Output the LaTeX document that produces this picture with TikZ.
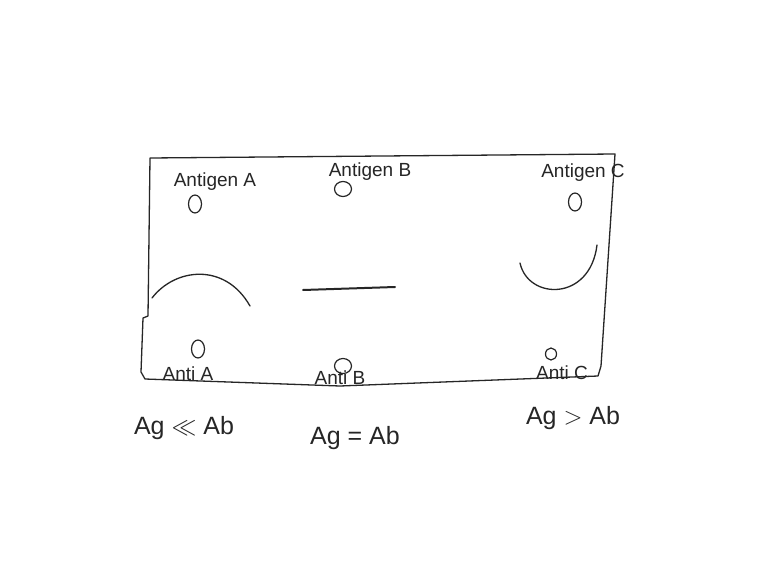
\documentclass[tikz,border=0pt]{standalone}
\usepackage{fontspec}
\setmainfont{Liberation Sans}
\usetikzlibrary{shapes.geometric}
\begin{document}
\begin{tikzpicture}[x=1pt,y=-1pt,
  pen/.style={line width=1.3pt,draw=black!85,line cap=round,line join=round},
  lbl/.style={font=\fontsize{19}{21}\selectfont,text=black!85,inner sep=1pt},
  albl/.style={font=\fontsize{19}{21}\selectfont,text=black!85,inner sep=1pt},
  well/.style={ellipse,draw=black!85,line width=1.2pt,minimum width=13pt,minimum height=18pt,inner sep=0pt},
  wellb/.style={ellipse,draw=black!85,line width=1.2pt,minimum width=17pt,minimum height=15pt,inner sep=0pt},
  rel/.style={font=\fontsize{25}{27}\selectfont,text=black!85}]
\useasboundingbox (0,0) rectangle (767,583);
\fill[white] (0,0) rectangle (767,583);
% frame
\draw[pen] (150,158) -- (615,154) -- (601,366) -- (598,376) -- (340,386) -- (145,379) -- (141,372) -- (143,318) -- (148,316) -- cycle;
% labels
\node[lbl] (agA) at (215,182) {Antigen A};
\node[lbl] (agB) at (370,172) {Antigen B};
\node[lbl] (agC) at (583,173) {Antigen C};
\node[well] (wA) at (195,204) {};
\node[wellb] (wB) at (343,189) {};
\node[well] (wC) at (575,202) {};
\node[well] (aA) at (198,349) {};
\node[wellb] (aB) at (343,366) {};
\node[well,minimum width=11pt,minimum height=12pt] (aC) at (551,354) {};
\node[albl] (antiA) at (188,374) {Anti A};
\node[albl] (antiB) at (340,378) {Anti B};
\node[albl] (antiC) at (562,373) {Anti C};
% precipitin lines
\coordinate (pa1) at (152,298);
\coordinate (pa2) at (250,306);
\draw[pen] (pa1) .. controls (175,268) and (225,262) .. (pa2);
\coordinate (pb1) at (303,290);
\coordinate (pb2) at (395,287);
\draw[pen,line width=2pt] (pb1) -- (pb2);
\coordinate (pc1) at (520,263);
\coordinate (pc2) at (597,245);
\draw[pen] (pc1) .. controls (528,300) and (590,302) .. (pc2);
% relations
\node[rel] (r1) at (184,428) {Ag $\ll$ Ab};
\node[rel] (r2) at (355,438) {Ag = Ab};
\node[rel] (r3) at (573,418) {Ag $>$ Ab};
\end{tikzpicture}
\end{document}
